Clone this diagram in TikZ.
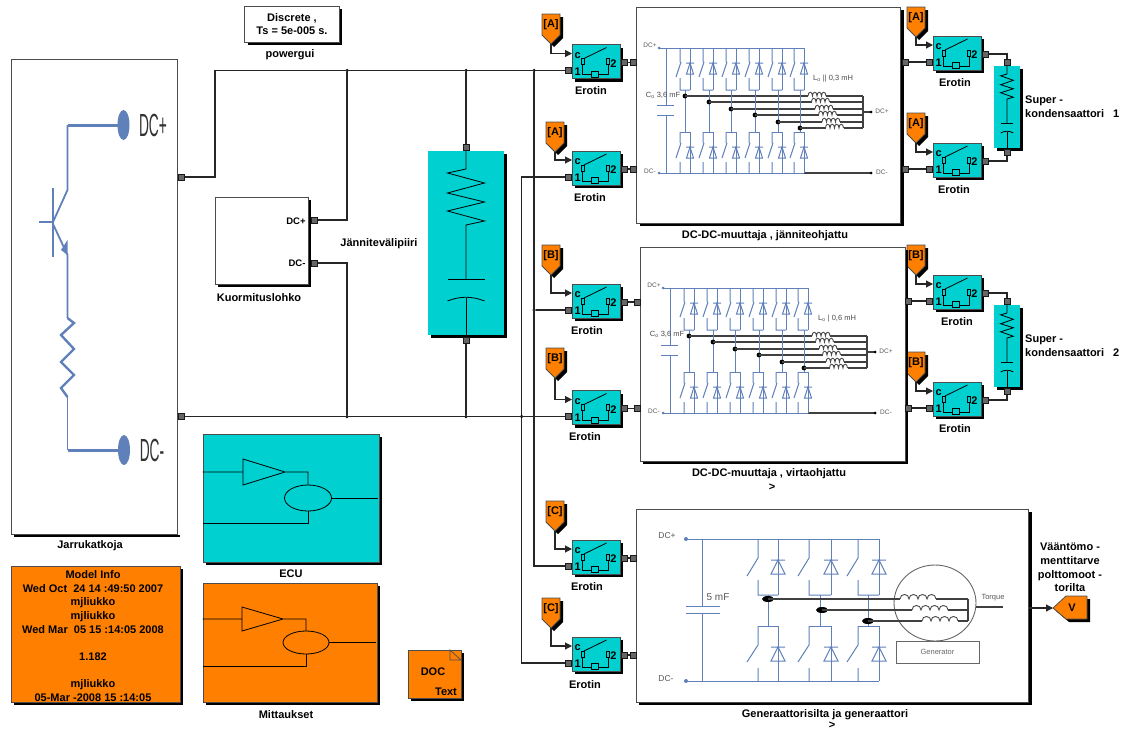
\documentclass[tikz,border=0pt]{standalone}
\usepackage{graphicx}
\usepackage{fontspec}
\setmainfont{Liberation Sans}
\usetikzlibrary{arrows.meta, shadows}
\definecolor{simcyan}{RGB}{0,208,208}
\definecolor{simorange}{RGB}{255,128,0}
\definecolor{schemblue}{RGB}{96,128,186}

\begin{document}
\begin{tikzpicture}[
    x=1pt, y=-1pt,
    shade3/.style={drop shadow={shadow xshift=3pt, shadow yshift=-3pt, fill=black, opacity=1}},
    blockbox/.style={rectangle, draw=black!70, line width=0.8pt, inner sep=0pt, shade3},
    imgbox/.style={blockbox, fill=white},
    cyanbox/.style={blockbox, fill=simcyan},
    orangebox/.style={blockbox, fill=simorange},
    lab/.style={inner sep=0pt, align=center, font=\fontsize{11}{13.6}\selectfont\bfseries},
    dimlab/.style={inner sep=0pt, text=black!65, font=\fontsize{6.5}{7}\selectfont},
    valuelab/.style={inner sep=0pt, text=black!70, font=\fontsize{7.5}{8}\selectfont},
    port/.style={rectangle, fill=black!60, draw=black!90, line width=1pt, minimum size=6pt, inner sep=0pt},
    dotj/.style={circle, fill=black, minimum size=3.5pt, inner sep=0pt},
    wire/.style={draw=black!85, line width=1.1pt},
    arr/.style={wire, -{Triangle[length=7pt, width=7pt]}},
    inner/.style={draw=black, line width=0.8pt},
    blue/.style={draw=schemblue, line width=1pt},
    dark/.style={draw=black!75, line width=1.2pt},
    tagbox/.style={fill=simorange, draw=black!70, line width=0.8pt, shade3},
    erotin/.pic={
        \node[cyanbox, minimum width=48pt, minimum height=34pt] (body) at (24,17) {};
        \draw[inner] (12,14) -- (34.5,3);
        \draw[inner] (10.7,20) -- (10.7,30) -- (36,30) -- (36,20);
        \draw[inner, fill=simcyan] (9,14) rectangle (12.5,20);
        \draw[inner, fill=simcyan] (34.2,14) rectangle (37.8,20);
        \draw[inner, fill=simcyan] (19.5,26.5) rectangle (26.5,32.5);
        \node[lab] (cc) at (5.6,11) {c};
        \node[lab] (one) at (5.6,27) {1};
        \node[lab] (two) at (41.4,19) {2};
        \node[port] (inp) at (-4,26) {};
        \node[port] (outp) at (52.5,18) {};
        \coordinate (ctl) at (0,9);
    },
    tagdown/.pic={
        \draw[tagbox] (0,0) -- (18,0) -- (18,21) -- (9,30) -- (0,21) -- cycle;
        \node[lab] (txt) at (9,11) {#1};
        \coordinate (tip) at (9,30);
    },
    rcbox/.pic={
        \fill[simcyan, shade3] (-38,0) rectangle (38,184);
        \draw[inner] (0,0) -- (0,18) -- (-18.5,22) -- (18.5,32) -- (-18.5,42) -- (18.5,51)
            -- (-18.5,60) -- (18.5,70) -- (0,74) -- (0,128);
        \draw[inner] (-18.5,128) -- (18.5,128);
        \draw[inner] (-18.5,150) .. controls (-6,145) and (6,145) .. (18.5,150);
        \draw[inner] (0,147) -- (0,184);
    },
    dcdc/.pic={
        \draw[blue] (659,48) -- (804,48);
        \draw[blue] (659,173) -- (804,173);
        \draw[dark] (804,173) -- (871,173);
        \draw[blue] (666,48) -- (666,105) (666,115) -- (666,173);
        \draw[blue] (657,105) -- (674,105) (657,115) -- (674,115);
        \foreach \sx/\dx/\mx/\jy [count=\k] in {680/690/685/96, 703/713/709/102, 726/736/731/109,
                                                 749/759/755/115, 772/782/778/122, 794/804/800/128}{
            \draw[blue] (\sx,48) -- (\sx,62) (\sx+1,62) -- (\sx-4,77) (\sx,78) -- (\sx,90) -- (\dx,90);
            \draw[blue] (\dx,48) -- (\dx,90);
            \draw[blue] (\dx-4,63) -- (\dx+4,63) (\dx-3.5,74) -- (\dx+3.5,74) -- (\dx,63) -- cycle;
            \draw[blue] (\sx,132) -- (\dx,132) (\dx,132) -- (\dx,173);
            \draw[blue] (\sx,132) -- (\sx,143) (\sx+1,143) -- (\sx-4,158) (\sx,162) -- (\sx,173);
            \draw[blue] (\dx-4,147) -- (\dx+4,147) (\dx-3.5,158) -- (\dx+3.5,158) -- (\dx,147) -- cycle;
            \draw[blue] (\mx,90) -- (\mx,132);
            \fill[black] (\mx,\jy) circle[radius=2.4];
            \pgfmathsetmacro{\cx}{808+3.5*(\k-1)}
            \draw[dark] (\mx,\jy) -- (\cx,\jy);
            \draw[draw=black!70, line width=0.9pt] (\cx,\jy) foreach \b in {1,2,3,4}{
                .. controls +(0,-5) and +(0,-5) .. ++(4.5,0)};
            \draw[dark] (\cx+18,\jy) -- (863,\jy);
        }
        \draw[dark] (863,96) -- (863,128);
        \draw[dark] (863,112) -- (871,112);
        \fill[schemblue] (659,48) circle[radius=1.5] (659,173) circle[radius=1.5];
        \fill[black] (871,112) circle[radius=1.5] (871,173) circle[radius=1.5];
        \node[dimlab] (lp) at (650,45) {DC+};
        \node[dimlab] (lm) at (650,171) {DC-};
        \node[dimlab] (rp) at (882,111) {DC+};
        \node[dimlab] (rm) at (882,172) {DC-};
    }
]
\useasboundingbox (0,0) rectangle (1134,731);

\node[rectangle, draw=black!70, line width=0.8pt, fill=white, minimum width=166pt, minimum height=475pt] (jarru) at (94,296.5) {};
\fill[black] (14,534.5) rectangle (180,537);
\node[lab] (jarrut) at (90,546) {Jarrukatkoja};
\draw[draw=schemblue, line width=3pt] (124,125) -- (67.5,125);
\draw[draw=schemblue, line width=1.8pt] (67.5,125) -- (67.5,190) -- (53,222);
\draw[draw=schemblue, line width=1.8pt] (53,188) -- (53,257);
\draw[draw=schemblue, line width=2.4pt] (39,222) -- (53,222);
\draw[draw=schemblue, line width=1.8pt] (53,224) -- (67.5,255) -- (67.5,318);
\draw[draw=schemblue, line width=2.4pt] (67.5,318) -- (74,323) -- (61,335) -- (74,349)
    -- (61,362) -- (74,375) -- (61,388) -- (67.5,397);
\draw[draw=schemblue, line width=1.8pt] (67.5,397) -- (67.5,450);
\fill[schemblue] (61,250) -- (67.5,240) -- (67.5,255) -- cycle;
\draw[draw=schemblue, line width=3pt] (67.5,450) -- (124,450);
\fill[schemblue] (123.5,125) ellipse[x radius=6, y radius=15];
\fill[schemblue] (124,450) ellipse[x radius=6, y radius=15];
\node[inner sep=0pt, text=black!80, font=\fontsize{32}{32}\selectfont] (jplus) at (153,125) {\scalebox{.43}[1]{DC+}};
\node[inner sep=0pt, text=black!80, font=\fontsize{32}{32}\selectfont] (jminus) at (152,450) {\scalebox{.43}[1]{DC-}};
\node[port] (jp) at (181,177) {};
\node[port] (jm) at (181,416.5) {};

\node[imgbox, minimum width=94.5pt, minimum height=36pt, lab] (gui) at (292,24) {Discrete ,\\Ts = 5e-005 s.};
\node[lab] (guit) at (290,55) {powergui};

\node[imgbox, minimum width=93pt, minimum height=87pt] (kuorm) at (261.5,240.5) {};
\node[lab, font=\fontsize{9.5}{11}\selectfont\bfseries] (kuormp) at (296,221) {DC+};
\node[lab, font=\fontsize{9.5}{11}\selectfont\bfseries] (kuormm) at (297,263) {DC-};
\node[port] (kp) at (314,220) {};
\node[port] (km) at (314,263) {};
\node[lab] (kuormt) at (259,298) {Kuormituslohko};
\node[lab] (valit) at (379,244) {Jännitevälipiiri};

\pic at (466,151) {rcbox};
\node[port] (cp) at (466,147) {};
\node[port] (cm) at (466,340) {};

\pic (ea1) at (572,44.5) {erotin};
\pic (ea2) at (572,151) {erotin};
\pic (eb1) at (572,284) {erotin};
\pic (eb2) at (572,390.5) {erotin};
\pic (ec1) at (572,540) {erotin};
\pic (ec2) at (572,637) {erotin};
\pic (fa1) at (933,36) {erotin};
\pic (fa2) at (933,143) {erotin};
\pic (fb1) at (933,275) {erotin};
\pic (fb2) at (933,382) {erotin};

\node[lab] (ea1t) at (591,91) {Erotin};
\node[lab] (ea2t) at (590,198) {Erotin};
\node[lab] (eb1t) at (587,331) {Erotin};
\node[lab] (eb2t) at (585,437) {Erotin};
\node[lab] (ec1t) at (587,587) {Erotin};
\node[lab] (ec2t) at (585,685) {Erotin};
\node[lab] (fa1t) at (955,83) {Erotin};
\node[lab] (fa2t) at (954,190) {Erotin};
\node[lab] (fb1t) at (957,322) {Erotin};
\node[lab] (fb2t) at (955,429) {Erotin};

\pic (ta1) at (542,14) {tagdown={[A]}};
\pic (ta2) at (546,122) {tagdown={[A]}};
\pic (tb1) at (542,245) {tagdown={[B]}};
\pic (tb2) at (546,348) {tagdown={[B]}};
\pic (tc1) at (546,501) {tagdown={[C]}};
\pic (tc2) at (542,598) {tagdown={[C]}};
\pic (tf1) at (907,7) {tagdown={[A]}};
\pic (tf2) at (907,113) {tagdown={[A]}};
\pic (tg1) at (907,245) {tagdown={[B]}};
\pic (tg2) at (907,352) {tagdown={[B]}};

\node[imgbox, minimum width=264pt, minimum height=216pt] (conva) at (768.5,115) {};
\pic (pa) at (0,0) {dcdc};
\node[valuelab] (capa) at (663,95) {C\textsubscript{o} 3,6 mF};
\node[valuelab] (inda) at (833,79) {L\textsubscript{o} || 0,3 mH};
\node[lab] (convat) at (765,236) {DC-DC-muuttaja , jänniteohjattu};
\node[port] (daa) at (633,62.5) {};
\node[port] (dab) at (633,169) {};
\node[port] (dac) at (905,62) {};
\node[port] (dad) at (905,169) {};

\node[imgbox, minimum width=265pt, minimum height=214pt] (convb) at (772.5,354) {};
\pic (pb) at (4,240) {dcdc};
\node[valuelab] (capb) at (667,334) {C\textsubscript{o} 3,6 mF};
\node[valuelab] (indb) at (837,319) {L\textsubscript{o} | 0,6 mH};
\node[lab] (convbt) at (769,474) {DC-DC-muuttaja , virtaohjattu};
\node[lab] (convbm) at (772,487) {>};
\node[port] (dba) at (637,302) {};
\node[port] (dbb) at (637,408.5) {};
\node[port] (dbc) at (908,301) {};
\node[port] (dbd) at (908,408) {};

\pic[xscale=.342, yscale=.446] at (1007,66) {rcbox};
\pic[xscale=.342, yscale=.446] at (1007,305) {rcbox};
\node[port] (sa1) at (1007,62) {};
\node[port] (sa2) at (1007,152) {};
\node[port] (sb1) at (1007,301) {};
\node[port] (sb2) at (1007,391) {};
\node[lab, align=left, anchor=west] (supa) at (1025,106.5) {Super -\\kondensaattori\ \ \ 1};
\node[lab, align=left, anchor=west] (supb) at (1025,345.5) {Super -\\kondensaattori\ \ \ 2};

\node[imgbox, minimum width=392.5pt, minimum height=193pt] (gen) at (832.25,605.5) {};
\draw[blue] (686,539) -- (879,539);
\draw[blue] (686,681) -- (879,681);
\draw[blue] (702,539) -- (702,606) (702,613) -- (702,681);
\draw[blue] (686,606) -- (720,606) (686,613) -- (720,613);
\fill[schemblue] (686,539) circle[radius=2] (686,681) circle[radius=2];
\foreach \sx/\dx/\mx/\jx/\jy in {758/778/768/768/599, 809/831/820/822/610, 858/879/868/868/621}{
    \draw[blue] (\sx,539) -- (\sx,558) (\sx,558) -- (\sx-11,576) (\sx,580) -- (\sx,595) -- (\dx,595);
    \draw[blue] (\dx,539) -- (\dx,595);
    \draw[blue] (\dx-7,560) -- (\dx+7,560) (\dx-7,574) -- (\dx+7,574) -- (\dx,560) -- cycle;
    \draw[blue] (\sx,626) -- (\dx,626) (\dx,626) -- (\dx,681);
    \draw[blue] (\sx,626) -- (\sx,645) (\sx,645) -- (\sx-11,662) (\sx,668) -- (\sx,681);
    \draw[blue] (\dx-7,647) -- (\dx+7,647) (\dx-7,661) -- (\dx+7,661) -- (\dx,647) -- cycle;
    \draw[blue] (\mx,595) -- (\mx,626);
}
\draw[draw=black!60, line width=0.9pt, fill=white] (935,603) ellipse[x radius=41, y radius=38];
\node[rectangle, draw=black!60, line width=0.9pt, fill=white, minimum width=83pt, minimum height=22pt, inner sep=0pt, text=black!60, font=\fontsize{7.5}{8}\selectfont] (generaattori) at (937.5,652) {Generator};
\foreach \jx/\jy/\cx in {768/599/900, 822/610/912, 868/621/922}{
    \fill[black] (\jx,\jy) ellipse[x radius=6, y radius=3];
    \draw[dark] (\jx,\jy) -- (\cx,\jy);
    \draw[draw=black!70, line width=0.9pt] (\cx,\jy) foreach \b in {1,2,3,4}{
        .. controls +(0,-6) and +(0,-6) .. ++(9,0)};
    \draw[dark] (\cx+36,\jy) -- (968,\jy);
}
\draw[dark] (968,599) -- (968,621);
\draw[draw=black!75, line width=1.4pt] (976,607) -- (1003,607);
\node[dimlab, font=\fontsize{7.5}{8}\selectfont] (torque) at (993,598) {Torque};
\node[dimlab, font=\fontsize{8.5}{9}\selectfont] (lpg) at (667,536) {DC+};
\node[dimlab, font=\fontsize{8.5}{9}\selectfont] (lmg) at (666,679) {DC-};
\node[dimlab, font=\fontsize{10}{11}\selectfont] (capg) at (718,597) {5 mF};
\node[lab] (gent) at (825,715) {Generaattorisilta ja generaattori};
\node[lab] (genm) at (832,725.5) {>};
\node[port] (dca) at (633,558) {};
\node[port] (dcb) at (633,655) {};

\draw[tagbox] (1066,596) -- (1087,596) -- (1087,619) -- (1066,619) -- (1053,608) -- cycle;
\coordinate (vtip) at (1053,608);
\node[lab] (vv) at (1072,608) {V};
\node[lab] (vt) at (1070,567.5) {Vääntömo -\\menttitarve\\polttomoot -\\torilta};

\node[cyanbox, minimum width=176pt, minimum height=128pt] (ecu) at (291,498) {};
\draw[inner] (ecu.west |- 0,472) -- (243,472) (243,459) -- (243,485) -- (285,472) -- cycle (285,472) -- (308,472) -- (308,485);
\draw[inner] (308,498) ellipse[x radius=23.5, y radius=13];
\draw[inner] (331.5,498) -- (378,498) (308,511) -- (308,523) -- (ecu.west |- 0,523);
\node[lab] (ecut) at (291,574) {ECU};

\node[orangebox, minimum width=174pt, minimum height=119pt] (mitt) at (290,642.5) {};
\draw[inner] (mitt.west |- 0,619) -- (242,619) (242,607) -- (242,631) -- (283,619) -- cycle (283,619) -- (306,619) -- (306,631);
\draw[inner] (306,642.5) ellipse[x radius=23, y radius=11.5];
\draw[inner] (329,642.5) -- (376,642.5) (306,654) -- (306,666) -- (mitt.west |- 0,666);
\node[lab] (mittt) at (286,715) {Mittaukset};

\node[orangebox, minimum width=169pt, minimum height=136pt] (info) at (95.5,634) {};
\node[lab] (infot) at (93,636) {Model Info\\Wed Oct\ \ 24 14 :49:50 2007\\mjliukko\\mjliukko\\Wed Mar\ \ 05 15 :14:05 2008\\~\\1.182\\~\\mjliukko\\05-Mar -2008 15 :14:05};

\node[orangebox, minimum width=53pt, minimum height=48pt] (doc) at (434.5,674) {};
\draw[draw=black!70, line width=0.7pt] (450,650) -- (450,660) -- (461,660) -- cycle;
\node[lab] (doca) at (433,672) {DOC};
\node[lab] (docb) at (446,692) {Text};

\node[dotj] (j1) at (347,70.5) {};
\node[dotj] (j2) at (466,70.5) {};
\node[dotj] (j3) at (534,70.5) {};
\node[dotj] (j4) at (347,416.5) {};
\node[dotj] (j5) at (466,416.5) {};
\node[dotj] (j6) at (521.5,416.5) {};
\node[dotj] (j7) at (534,310) {};

\draw[wire] (jp) -- ++(34,0) |- (ea1inp);
\draw[wire] (jm) -- (eb2inp);
\draw[wire] (kp) -| (j1);
\draw[wire] (km) -| (j4);
\draw[wire] (cp) -- (j2);
\draw[wire] (cm) -- (j5);
\draw[wire] (j3) |- (ec1inp);
\draw[wire] (j7) -- (eb1inp);
\draw[wire] (ea2inp) -| (j6) |- (ec2inp);

\draw[arr] (ta1tip) |- (ea1ctl);
\draw[arr] (ta2tip) |- (ea2ctl);
\draw[arr] (tb1tip) |- (eb1ctl);
\draw[arr] (tb2tip) |- (eb2ctl);
\draw[arr] (tc1tip) |- (ec1ctl);
\draw[arr] (tc2tip) |- (ec2ctl);
\draw[arr] (tf1tip) |- (fa1ctl);
\draw[arr] (tf2tip) |- (fa2ctl);
\draw[arr] (tg1tip) |- (fb1ctl);
\draw[arr] (tg2tip) |- (fb2ctl);

\draw[wire] (ea1outp) -- (daa);
\draw[wire] (ea2outp) -- (dab);
\draw[wire] (eb1outp) -- (dba);
\draw[wire] (eb2outp) -- (dbb);
\draw[wire] (ec1outp) -- (dca);
\draw[wire] (ec2outp) -- (dcb);
\draw[wire] (dac) -- (fa1inp);
\draw[wire] (dad) -- (fa2inp);
\draw[wire] (dbc) -- (fb1inp);
\draw[wire] (dbd) -- (fb2inp);
\draw[wire] (fa1outp) -| (sa1);
\draw[wire] (fa2outp) -| (sa2);
\draw[wire] (fb1outp) -| (sb1);
\draw[wire] (fb2outp) -| (sb2);
\draw[arr] (gen.east |- vtip) -- (vtip);
\end{tikzpicture}
\end{document}
